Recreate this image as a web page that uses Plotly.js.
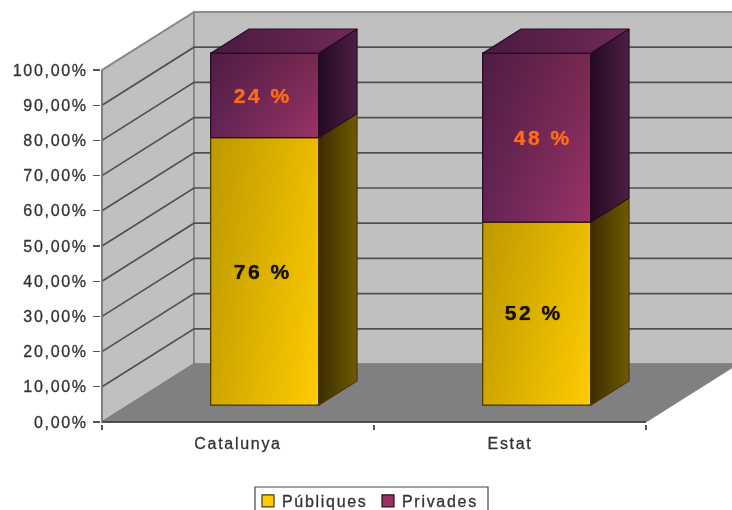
<!DOCTYPE html>
<html><head><meta charset="utf-8">
<script src="https://cdn.plot.ly/plotly-3.0.0.min.js"></script>
<style>
html,body{margin:0;padding:0;background:#fff;overflow:hidden}
#chart{filter:blur(0.4px)}
.xtick text,.ytick text,.legendtext{letter-spacing:1.7px;stroke:#333;stroke-width:0.3px}
.legendtext{transform:translateX(-6px)}
.textpoint text{letter-spacing:2.5px}
</style></head><body>
<div id="chart" style="width:732px;height:510px"></div>
<script>
// data
const categories = ['Catalunya', 'Estat'];
const publiques = [76, 52];
const privades = [24, 48];
const seriesNames = ['Públiques', 'Privades'];
const yTicks = [0,10,20,30,40,50,60,70,80,90,100];
const yTickText = ['0,00%','10,00%','20,00%','30,00%','40,00%','50,00%','60,00%','70,00%','80,00%','90,00%','100,00%'];

// oblique projection, in axis units
const PXX = 272, PXY = 3.52;
const DX = 92/PXX, DY = 58/PXY;
const D0 = 0.29, D1 = 0.707;
const BW = 0.397;
const xs = categories.map((c,i)=>i+1);
const P = (x,v,d)=>[x+d*DX, v+d*DY];
const poly = pts=>({x:pts.map(p=>p[0]).concat(pts[0][0]), y:pts.map(p=>p[1]).concat(pts[0][1])});
const pathOf = pts=>'M'+pts.map(p=>p[0]+','+p[1]).join('L')+'Z';

const shapes = [];
const XMIN=0.5, XMAX=2.5;
const wallLine='#7d7d7d', gridLine='#505050';
shapes.push({type:'path',layer:'below',xref:'x',yref:'y',fillcolor:'#c0c0c0',line:{color:wallLine,width:1.5},
  path:pathOf([P(XMIN,0,0),P(XMIN,0,1),P(XMIN,100,1),P(XMIN,100,0)])});
shapes.push({type:'path',layer:'below',xref:'x',yref:'y',fillcolor:'#c0c0c0',line:{color:wallLine,width:1.5},
  path:pathOf([P(XMIN,0,1),P(XMAX,0,1),P(XMAX,100,1),P(XMIN,100,1)])});
shapes.push({type:'path',layer:'below',xref:'x',yref:'y',fillcolor:'#808080',line:{color:'#808080',width:1},
  path:pathOf([P(XMIN,0,0),P(XMAX,0,0),P(XMAX,0,1),P(XMIN,0,1)])});
yTicks.forEach(v=>{
  if(v>0){
    const a=P(XMIN,v,0),b=P(XMIN,v,1),c=P(XMAX,v,1);
    shapes.push({type:'path',layer:'below',xref:'x',yref:'y',line:{color:v===100?'#8a8a8a':gridLine,width:1.7},
      path:'M'+a.join(',')+'L'+b.join(',')+'L'+c.join(',')});
  }
});
shapes.push({type:'line',layer:'below',xref:'x',yref:'y',x0:XMIN,x1:XMAX,y0:0,y1:0,line:{color:'#333',width:1.5}});
shapes.push({type:'line',layer:'below',xref:'x',yref:'y',x0:XMIN,x1:XMIN,y0:0,y1:100,line:{color:'#777',width:1.5}});
// legend frame
shapes.push({type:'rect',layer:'above',xref:'paper',yref:'paper',
  x0:(255-101)/631,x1:(488-101)/631,y0:(424-513)/424,y1:(424-487)/424,line:{color:'#444',width:1.2},fillcolor:'rgba(0,0,0,0)'});

const hbase = publiques.map(()=>D0*DY);
const traces = [
 {type:'bar',name:seriesNames[0],x:xs.map(x=>x+D0*DX),y:publiques,base:hbase,width:BW,
  marker:{color:'#ffcc00',line:{color:'#4a3a00',width:1.2}},hoverinfo:'skip'},
 {type:'bar',name:seriesNames[1],x:xs.map(x=>x+D0*DX),y:privades,base:publiques.map((v,i)=>v+hbase[i]),width:BW,
  marker:{color:'#993366',line:{color:'#2a0a25',width:1.2}},hoverinfo:'skip'}
];
const grad=(c0,c1,type)=>({type:type||'horizontal',colorscale:[[0,c0],[1,c1]]});
function face(pts,fg,lineColor){
  const p=poly(pts);
  traces.push({type:'scatter',mode:lineColor?'lines':'none',x:p.x,y:p.y,fill:'toself',fillgradient:fg,
    fillcolor:'rgba(0,0,0,0)',line:{color:lineColor||'rgba(0,0,0,0)',width:1.2},showlegend:false,hoverinfo:'skip'});
}
const styles = [
 {front:['#cfa600','#ffcc00'],shade:0.08,side:['#3b2c00','#6f5b00'],line:'#4a3a00'},
 {front:['#632555','#993366'],shade:0.22,side:['#220a1f','#4d1f45'],top:['#4a1a40','#6e2a58'],line:'#2a0a25'}
];
xs.forEach((x,i)=>{
  const segs=[[0,publiques[i]],[publiques[i],publiques[i]+privades[i]]];
  segs.forEach((s,k)=>{
    const st=styles[k], l=x-BW/2, r=x+BW/2;
    const frontPts=[P(l,s[0],D0),P(r,s[0],D0),P(r,s[1],D0),P(l,s[1],D0)];
    face(frontPts,grad(st.front[0],st.front[1]));
    face(frontPts,{type:'vertical',colorscale:[[0,'rgba(0,0,0,0)'],[1,'rgba(0,0,0,'+st.shade+')']]},st.line);
    face([P(r,s[0],D0),P(r,s[0],D1),P(r,s[1],D1),P(r,s[1],D0)],grad(st.side[0],st.side[1]),st.line);
    if(k===1) face([P(l,s[1],D0),P(r,s[1],D0),P(r,s[1],D1),P(l,s[1],D1)],grad(st.top[0],st.top[1]),st.line);
  });
});
// value labels, nudged in pixels the way they were placed by hand in the original
const labelColors=['#1a1200','#ff6a1a'];
const nudgeX=[[-2,-3],[-2,6]], nudgeY=[[2,1.5],[2,2.5]];
[publiques,privades].forEach((vals,k)=>{
  traces.push({type:'scatter',mode:'text',showlegend:false,hoverinfo:'skip',cliponaxis:false,
    x:xs.map((x,i)=>x+D0*DX+nudgeX[k][i]/PXX),
    y:vals.map((v,i)=>D0*DY+(k?publiques[i]:0)+v/2-nudgeY[k][i]/PXY),
    text:vals.map(v=>v+' %'),textposition:'middle center',
    textfont:{family:'"Liberation Sans",Arial,sans-serif',size:21,weight:700,color:labelColors[k],shadow:'0 0 1px '+labelColors[k]}});
});

const layout={
 width:732,height:510,margin:{l:101,r:0,t:0,b:86},paper_bgcolor:'#fff',plot_bgcolor:'#fff',
 barmode:'overlay',showlegend:true,shapes:shapes,
 xaxis:{type:'linear',range:[0.5-1/PXX,0.5+630/PXX],tickvals:xs,ticktext:categories,ticks:'',showgrid:false,zeroline:false,showline:false,
   ticklabelstandoff:8,
   minor:{tickvals:[0.5,1.5,2.5],ticks:'outside',ticklen:5,tickwidth:1.2,tickcolor:'#555',showgrid:false},
   tickfont:{family:'"Liberation Sans",Arial,sans-serif',size:16,color:'#333'},automargin:false},
 yaxis:{range:[-2/PXY,422/PXY],tickvals:yTicks,ticktext:yTickText,ticks:'outside',ticklen:7,tickwidth:1.2,tickcolor:'#555',
   showgrid:false,zeroline:false,showline:false,ticklabelstandoff:2,
   tickfont:{family:'"Liberation Sans",Arial,sans-serif',size:16,color:'#333'},automargin:false},
 legend:{orientation:'h',xref:'container',yref:'container',x:248/732,xanchor:'left',y:1-484/510,yanchor:'top',
   bgcolor:'rgba(0,0,0,0)',borderwidth:0,traceorder:'normal',itemclick:false,itemdoubleclick:false,
   entrywidth:75,entrywidthmode:'pixels',
   font:{family:'"Liberation Sans",Arial,sans-serif',size:16,color:'#333'}}
};
Plotly.newPlot('chart',traces,layout,{displayModeBar:false,staticPlot:true});
</script></body></html>
